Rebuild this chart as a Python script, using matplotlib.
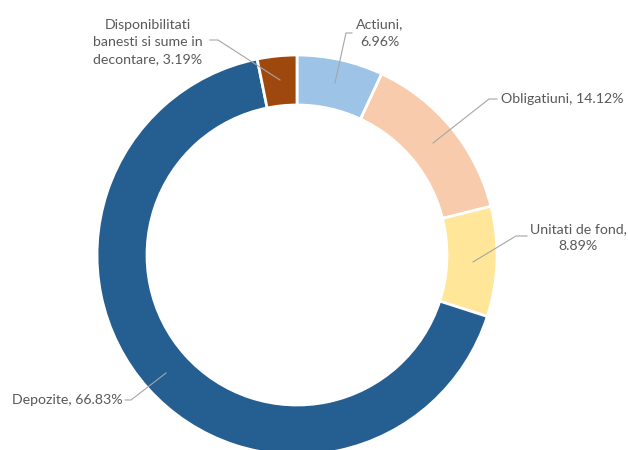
import matplotlib
matplotlib.use("Agg")
import matplotlib.pyplot as plt

categories = ["Actiuni", "Obligatiuni", "Unitati de fond", "Depozite",
              "Disponibilitati banesti si sume in decontare"]
values = [6.96, 14.12, 8.89, 66.83, 3.19]
colors = ["#9DC3E6", "#F8CBAD", "#FFE699", "#255E91", "#9E480E"]

W, H = 628, 450
fig = plt.figure(figsize=(W / 100, H / 100), dpi=100)
ax = fig.add_axes([0, 0, 1, 1])
ax.set_xlim(0, W)
ax.set_ylim(0, H)
ax.set_aspect("equal")
ax.axis("off")

cx, cy, R = 297, H - 255, 200
ax.pie(values, colors=colors, startangle=90, counterclock=False,
       center=(cx, cy), radius=R, frame=True,
       wedgeprops=dict(width=50, edgecolor="white", linewidth=2))
ax.set_xlim(0, W)
ax.set_ylim(0, H)
ax.axis("off")

txt = dict(color="#595959", fontsize=10.2, family=["Lato", "DejaVu Sans"])
lc = dict(color="#A6A6A6", lw=0.8)

def y(v):
    return H - v

# labels: (text, x, y, ha, leader points in image coords)
labels = [
    ("Actiuni,\n6.96%", 380, 33, "center", [(352, 33), (346, 33), (335, 83)]),
    ("Obligatiuni, 14.12%", 501, 99, "left", [(497, 99), (489, 99), (433, 143)]),
    ("Unitati de fond,\n8.89%", 578, 238, "center", [(527, 236), (516, 236), (473, 262)]),
    ("Depozite, 66.83%", 12, 400, "left", [(125, 400), (131, 400), (166, 373)]),
    ("Disponibilitati\nbanesti si sume in\ndecontare, 3.19%", 148, 42, "center",
     [(210, 40), (218, 40), (280, 80)]),
]
for text, tx, ty, ha, pts in labels:
    ax.text(tx, y(ty), text, ha=ha, va="center", linespacing=1.5, **txt)
    ax.plot([p[0] for p in pts], [y(p[1]) for p in pts], **lc)

fig.savefig("out.png", dpi=100)
